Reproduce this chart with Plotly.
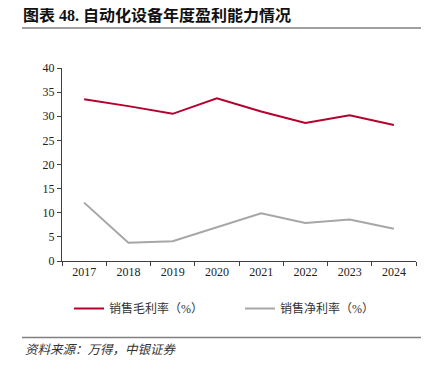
import plotly.graph_objects as go

years = ["2017", "2018", "2019", "2020", "2021", "2022", "2023", "2024"]
gross_margin = [33.5, 32.1, 30.5, 33.7, 31.0, 28.6, 30.2, 28.2]
net_margin = [12.1, 3.8, 4.1, 7.0, 9.9, 7.9, 8.6, 6.7]
series_names = ["销售毛利率（%）", "销售净利率（%）"]
y_ticks = [0, 5, 10, 15, 20, 25, 30, 35, 40]

# page body has an 8px default margin; work in figure pixels = screen - 8
OFF = 8
W, H = 434 - OFF, 374 - OFF
L, R, T, B = 62 - OFF, 434 - 416, 68 - OFF, 374 - 261


def px_x(sx):
    return (sx - OFF) / W


def px_y(sy):
    return 1 - (sy - OFF) / H


cjk = "Liberation Serif, Noto Sans CJK SC"
serif = "Liberation Serif, Times New Roman, serif"

fig = go.Figure()
fig.add_trace(go.Scatter(x=years, y=gross_margin, mode="lines", name=series_names[0],
                         line=dict(color="#B4002D", width=2), legend="legend"))
fig.add_trace(go.Scatter(x=years, y=net_margin, mode="lines", name=series_names[1],
                         line=dict(color="#A6A6A6", width=2), legend="legend2"))

leg_common = dict(orientation="h", xref="container", yref="container",
                  xanchor="left", yanchor="top",
                  font=dict(family=cjk, size=12, color="#333333"),
                  bgcolor="rgba(0,0,0,0)")

fig.update_layout(
    width=W, height=H,
    margin=dict(l=L, r=R, t=T, b=B, autoexpand=False),
    paper_bgcolor="white", plot_bgcolor="white",
    showlegend=True,
    legend=dict(x=px_x(75 - 6), y=px_y(308 - 14), **leg_common),
    legend2=dict(x=px_x(246 - 6), y=px_y(308 - 14), **leg_common),
    xaxis=dict(type="category", range=[-0.5, 7.5], showgrid=False,
               showline=True, linecolor="#404040", linewidth=1,
               ticks="outside", ticklen=4, tickcolor="#404040",
               tickson="boundaries",
               tickfont=dict(family=serif, size=12, color="#222222")),
    yaxis=dict(range=[0, 40], tickvals=y_ticks, showgrid=False,
               showline=True, linecolor="#404040", linewidth=1,
               ticks="outside", ticklen=4, tickcolor="#404040",
               tickfont=dict(family=serif, size=12, color="#222222"),
               zeroline=False),
    font=dict(family=serif),
)

# title
fig.add_annotation(text="<b>图表 48. 自动化设备年度盈利能力情况</b>",
                   xref="paper", yref="paper", xanchor="left", yanchor="middle",
                   x=(21 - OFF - L) / (W - L - R), y=1 + (T - (15 - OFF)) / (H - T - B),
                   showarrow=False, font=dict(family=cjk, size=16, color="#111111"))
# rules
for yy in (28, 337.5):
    yp = 1 - ((yy - OFF) - T) / (H - T - B)
    fig.add_shape(type="line", xref="paper", yref="paper",
                  x0=(22 - OFF - L) / (W - L - R), x1=(421 - OFF - L) / (W - L - R),
                  y0=yp, y1=yp, line=dict(color="#808080", width=1.5))
# source
fig.add_annotation(text="<i>资料来源：万得，中银证券</i>", xref="paper", yref="paper",
                   x=(23 - OFF - L) / (W - L - R), y=1 - ((350 - OFF) - T) / (H - T - B),
                   xanchor="left", yanchor="middle", showarrow=False,
                   font=dict(family=cjk, size=12.5, color="#333333"))

fig.write_html("out.html")
